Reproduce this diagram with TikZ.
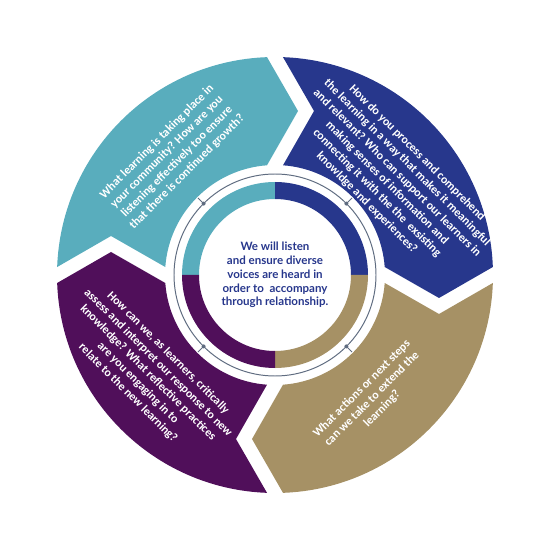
\documentclass[tikz,border=0pt]{standalone}
\usepackage{fontspec}
\newfontfamily\segfont{Carlito}
\newfontfamily\midfont{Lato}
\definecolor{segteal}{RGB}{89,173,189}
\definecolor{segblue}{RGB}{39,55,140}
\definecolor{seggold}{RGB}{166,145,101}
\definecolor{segpurple}{RGB}{80,15,90}
\definecolor{ringgray}{RGB}{95,108,128}
\tikzset{
  segtext/.style={text=white, align=center, inner sep=0pt,
    font=\segfont\bfseries\fontsize{8.5}{10.1}\selectfont},
  midtext/.style={text=segblue, align=center, inner sep=0pt,
    font=\midfont\bfseries\fontsize{8.2}{9.8}\selectfont}
}

\begin{document}
\begin{tikzpicture}[x=0.025cm, y=0.025cm]
\useasboundingbox (-275,-275) rectangle (275,275);
\foreach \col [count=\i from 0] in {segteal,segblue,seggold,segpurple}{
  \fill[\col, rotate=-90*\i] ({180-asin(8/218)}:218)
    arc[start angle={180-asin(8/218)}, end angle={90+asin(8/218)}, radius=218]
    -- (23,164) -- ({90+asin(8/110)}:110)
    arc[start angle={90+asin(8/110)}, end angle={180-asin(8/110)}, radius=110]
    -- (-164,39) -- cycle;
  \fill[\col, rotate=-90*\i] (-93,0) arc[start angle=180, end angle=90, radius=93]
    -- (0,76) arc[start angle=90, end angle=180, radius=76] -- cycle;
}
\draw[ringgray, line width=0.7] (0,0) circle[radius=101];
\foreach \a in {45,135,225,315}{
  \draw[ringgray, line width=0.7] (\a:101) -- (\a:109);
  \fill[ringgray] (\a:101) circle[radius=2];
}
\node[segtext, rotate=45] (tealq) at (-103,118) {What learning is taking place in\\your community? How are you\\listening effectively too ensure\\that there is continued growth?};
\node[segtext, rotate=-45] (blueq) at (117,97) {How do you process and comprehend\\the learning in a way that makes it meaningful\\and relevant? Who can support our learners in\\making senses of information and\\connecting it with the the~ exsisting\\knowldge and experiences?};
\node[segtext, rotate=45] (goldq) at (97,-124) {What actions or next steps\\can we take to extend the\\learning?};
\node[segtext, rotate=-45] (purpleq) at (-127,-98) {How can we, as learners, critically\\assess and interpret our response to new\\knowledge? What reflective practices\\are you engaging in to\\relate to the new learning?};
\node[midtext] (core) at (0,0) {We will listen\\and ensure diverse\\voices are heard in\\order to~ accompany\\through relationship.};
\end{tikzpicture}
\end{document}
